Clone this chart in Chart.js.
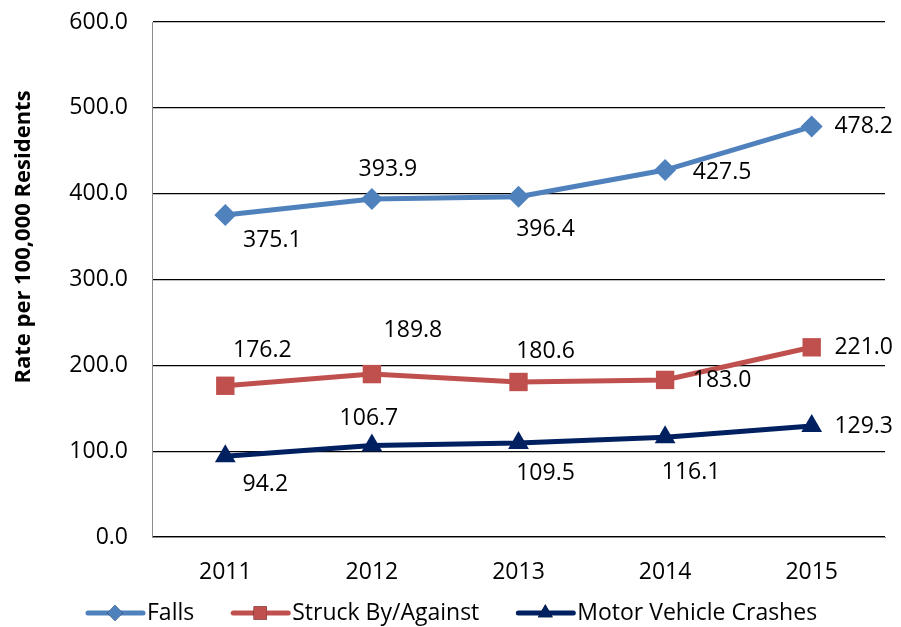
<!DOCTYPE html>
<html>
<head>
<meta charset="utf-8">
<script src="https://cdn.jsdelivr.net/npm/chart.js@4/dist/chart.umd.min.js"></script>
<style>
  html, body { margin: 0; padding: 0; background: #fff; }
  #wrap { width: 901px; height: 627px; }
</style>
</head>
<body>
<div id="wrap"><canvas id="injury_chart" width="901" height="627"></canvas></div>
<script>
var years = ['2011', '2012', '2013', '2014', '2015']
var falls = [375.1, 393.9, 396.4, 427.5, 478.2]
var struck = [176.2, 189.8, 180.6, 183.0, 221.0]
var crashes = [94.2, 106.7, 109.5, 116.1, 129.3]
var series_names = ['Falls', 'Struck By/Against', 'Motor Vehicle Crashes']
var y_ticks = [0, 100, 200, 300, 400, 500, 600]
var y_title = 'Rate per 100,000 Residents'

// where each value label sits relative to its point (dx, dy in px)
var label_offsets = [
    [[47, 25], [16, -29], [27, 33], [57, 2], [52, 0]],
    [[37, -35], [41, -44], [27, -31], [57, 1], [52, 0]],
    [[40, 28], [-3, -27], [27, 30], [26, 35], [52, 0]]
]

var font_family = "'Open Sans', 'DejaVu Sans', sans-serif"
var font_size = 23

// value labels next to each point
var valueLabels = {
    id: 'valueLabels',
    afterDatasetsDraw: function (chart) {
        var ctx = chart.ctx
        ctx.save()
        ctx.font = font_size + 'px ' + font_family
        ctx.fillStyle = '#000'
        ctx.textAlign = 'center'
        ctx.textBaseline = 'middle'
        chart.data.datasets.forEach(function (ds, i) {
            chart.getDatasetMeta(i).data.forEach(function (pt, j) {
                var off = label_offsets[i][j]
                ctx.fillText(ds.data[j].toFixed(1), pt.x + off[0], pt.y + off[1])
            })
        })
        ctx.restore()
    }
}

// rotated axis title, sitting a bit above the middle of the axis
var axisTitle = {
    id: 'axisTitle',
    afterDraw: function (chart) {
        var ctx = chart.ctx
        ctx.save()
        ctx.translate(24, 237)
        ctx.rotate(-Math.PI / 2)
        ctx.font = 'bold 22px ' + font_family
        ctx.fillStyle = '#000'
        ctx.textAlign = 'center'
        ctx.textBaseline = 'middle'
        ctx.fillText(y_title, 0, 0)
        ctx.restore()
    }
}

// legend with a line sample and marker, like the series themselves
var lineLegend = {
    id: 'lineLegend',
    afterDraw: function (chart) {
        var ctx = chart.ctx
        var y = 613
        var x = 88
        ctx.save()
        ctx.font = font_size + 'px ' + font_family
        ctx.textBaseline = 'middle'
        chart.data.datasets.forEach(function (ds) {
            ctx.strokeStyle = ds.borderColor
            ctx.lineWidth = 5
            ctx.lineCap = 'round'
            ctx.beginPath()
            ctx.moveTo(x, y)
            ctx.lineTo(x + 55, y)
            ctx.stroke()
            Chart.helpers.drawPoint(ctx, {
                pointStyle: ds.pointStyle,
                radius: ds.pointRadius * 0.72,
                borderWidth: 0
            }, x + 27, y)
            ctx.fillStyle = ds.borderColor
            ctx.fill()
            ctx.fillStyle = '#000'
            ctx.fillText(ds.label, x + 59, y)
            x += 59 + ctx.measureText(ds.label).width + 39
        })
        ctx.restore()
    }
}

function makeSet(label, data, color, style, radius) {
    return {
        label: label,
        data: data,
        borderColor: color,
        backgroundColor: color,
        borderWidth: 5,
        pointStyle: style,
        pointRadius: radius,
        pointHoverRadius: radius,
        pointBorderWidth: 0,
        tension: 0
    }
}

new Chart(document.getElementById('injury_chart').getContext('2d'), {
    type: 'line',
    data: {
        labels: years,
        datasets: [
            makeSet(series_names[0], falls, '#4F81BD', 'rectRot', 11),
            makeSet(series_names[1], struck, '#C0504D', 'rect', 13),
            makeSet(series_names[2], crashes, '#002060', 'triangle', 12)
        ]
    },
    options: {
        responsive: false,
        animation: false,
        layout: { padding: { top: 22, right: 16, bottom: 40, left: 0 } },
        plugins: {
            legend: { display: false },
            tooltip: { enabled: false }
        },
        scales: {
            x: {
                offset: true,
                grid: { display: false, drawTicks: false },
                border: { color: '#8c8c8c', width: 1 },
                ticks: {
                    color: '#000',
                    padding: 22,
                    font: { size: font_size, family: font_family }
                },
                afterFit: function (scale) {
                    scale.height = 50
                    scale.paddingLeft = 0
                    scale.paddingRight = 0
                }
            },
            y: {
                min: 0,
                max: 600,
                afterBuildTicks: function (scale) {
                    scale.ticks = y_ticks.map(function (v) { return { value: v } })
                },
                grid: { color: '#000', lineWidth: 1.3, drawTicks: false },
                border: { color: '#8c8c8c', width: 1 },
                ticks: {
                    color: '#000',
                    padding: 24,
                    font: { size: font_size, family: font_family },
                    callback: function (v) { return v.toFixed(1) }
                },
                afterFit: function (scale) {
                    scale.width = 152
                    scale.paddingTop = 0
                    scale.paddingBottom = 0
                }
            }
        }
    },
    plugins: [valueLabels, axisTitle, lineLegend]
})
</script>
</body>
</html>
